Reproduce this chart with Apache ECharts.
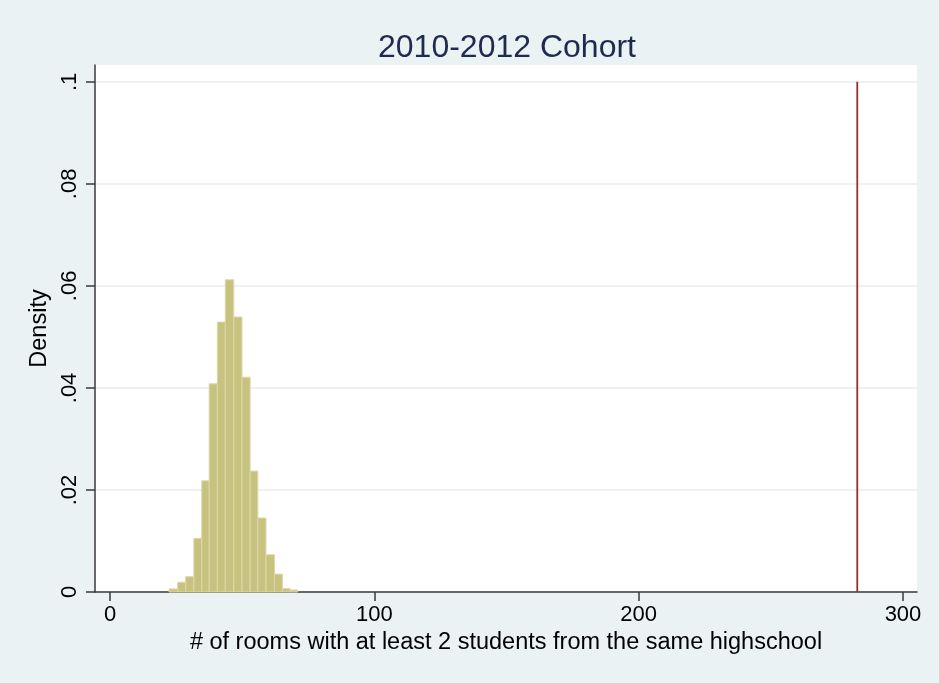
<!DOCTYPE html>
<html>
<head>
<meta charset="utf-8">
<title>2010-2012 Cohort</title>
<script src="https://cdn.jsdelivr.net/npm/echarts@6/dist/echarts.min.js"></script>
<style>
  html, body { margin: 0; padding: 0; background: #ffffff; }
  #chart { width: 939px; height: 683px; }
</style>
</head>
<body>
<div id="chart"></div>
<script>
// Histogram bin edges (number of rooms) and the density of each bin
const binEdges = [22.3, 25.6, 28.6, 31.7, 34.7, 37.5, 40.6, 43.6, 46.8,
                  49.9, 53.0, 55.9, 59.0, 62.2, 65.2, 68.1, 71.0];
const densities = [0.0006, 0.0019, 0.0030, 0.0105, 0.0218, 0.0408, 0.0529, 0.0612,
                   0.0539, 0.0421, 0.0237, 0.0145, 0.0073, 0.0035, 0.0007, 0.0004];

// Observed value, shown as a vertical reference line
const observedRooms = 282.7;
const observedLineTop = 0.1;

// Axis ticks
const xTickValues = [0, 100, 200, 300];
const yTickValues = [0, 0.02, 0.04, 0.06, 0.08, 0.1];
const yTickLabels = ['0', '.02', '.04', '.06', '.08', '.1'];

const histData = densities.map((d, i) => [binEdges[i], binEdges[i + 1], d]);

const FONT = '"Liberation Sans", Arial, Helvetica, sans-serif';
const AXIS_COLOR = '#3a3a3a';

const chart = echarts.init(document.getElementById('chart'), null, { renderer: 'canvas' });

chart.setOption({
  backgroundColor: '#eaf2f3',
  animation: false,
  title: {
    text: '2010-2012 Cohort',
    left: 373,
    top: 27,
    textStyle: { fontFamily: FONT, fontSize: 32, fontWeight: 'normal', color: '#1f2b4e' }
  },
  grid: {
    left: 95, right: 22, top: 65, bottom: 91,
    show: true, backgroundColor: '#ffffff', borderWidth: 0
  },
  xAxis: {
    type: 'value',
    min: -5.7,
    max: 305.3,
    name: '# of rooms with at least 2 students from the same highschool',
    nameLocation: 'middle',
    nameGap: 38,
    nameTextStyle: { fontFamily: FONT, fontSize: 23.5, color: '#000000' },
    axisLine: { show: true, onZero: false, lineStyle: { color: AXIS_COLOR, width: 1.5 } },
    axisTick: { show: true, length: 9, customValues: xTickValues, lineStyle: { color: AXIS_COLOR, width: 1.5 } },
    axisLabel: { customValues: xTickValues, margin: 12, fontFamily: FONT, fontSize: 22, color: '#000000' },
    splitLine: { show: false }
  },
  yAxis: {
    type: 'value',
    min: 0,
    max: 0.1033,
    interval: 0.02,
    name: 'Density',
    nameLocation: 'middle',
    nameRotate: 90,
    nameGap: 41,
    nameTextStyle: { fontFamily: FONT, fontSize: 23.5, color: '#000000' },
    axisLine: { show: true, onZero: false, lineStyle: { color: AXIS_COLOR, width: 1.5 } },
    axisTick: { show: true, length: 9, customValues: yTickValues, lineStyle: { color: AXIS_COLOR, width: 1.5 } },
    axisLabel: {
      customValues: yTickValues,
      rotate: 90,
      margin: 14,
      fontFamily: FONT, fontSize: 22, color: '#000000',
      formatter: (v) => {
        const i = yTickValues.findIndex(t => Math.abs(t - v) < 1e-9);
        return i >= 0 ? yTickLabels[i] : '';
      }
    },
    splitLine: { show: true, lineStyle: { color: '#e4edf1', width: 1.5 } }
  },
  series: [
    {
      type: 'custom',
      name: 'Density',
      data: histData,
      encode: { x: [0, 1], y: 2 },
      renderItem: (params, api) => {
        const top = api.coord([api.value(0), api.value(2)]);
        const bottom = api.coord([api.value(1), 0]);
        return {
          type: 'rect',
          shape: { x: top[0], y: top[1], width: bottom[0] - top[0], height: bottom[1] - top[1] },
          style: { fill: '#c8c280', stroke: '#dcd8a6', lineWidth: 1 }
        };
      },
      z: 3
    },
    {
      type: 'line',
      name: 'Observed',
      data: [[observedRooms, 0], [observedRooms, observedLineTop]],
      showSymbol: false,
      lineStyle: { color: '#a02a33', width: 1.8 },
      z: 4
    }
  ]
});
</script>
</body>
</html>
